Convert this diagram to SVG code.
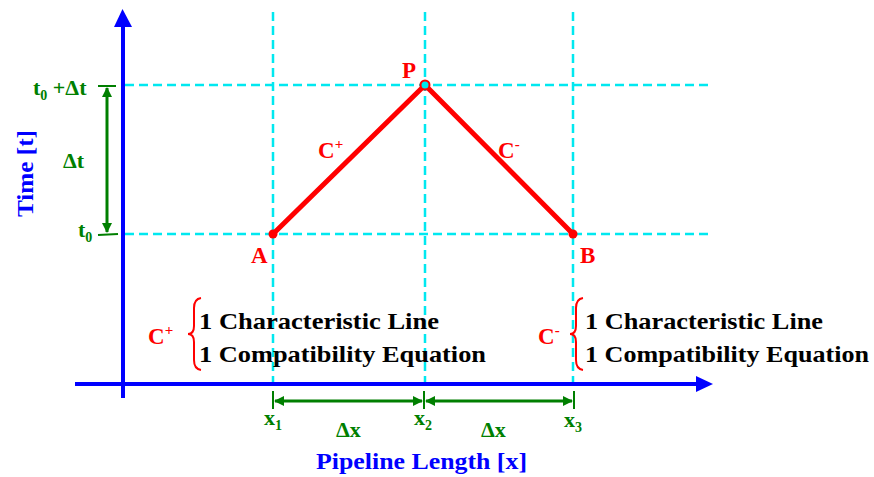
<svg xmlns="http://www.w3.org/2000/svg" width="874" height="477" viewBox="0 0 874 477">
<style>
.grid{stroke:#00E8F0;stroke-width:2.5;stroke-dasharray:9,5;fill:none}
.axis{stroke:#0000FF;stroke-width:4;fill:none}
.dim{stroke:#007F00;stroke-width:3;fill:none}
.tick{stroke:#007F00;stroke-width:2;fill:none}
.red{stroke:#FF0000;stroke-width:5;fill:none;stroke-linecap:round}
.t{font-family:"Liberation Serif","Times New Roman",serif;font-weight:bold}
.g{fill:#007F00;font-size:22px}
.r{fill:#FF0000;font-size:23px}
.k{fill:#000;font-size:23px}
.b{fill:#0000FF;font-size:23px}
</style>
<defs>
<marker id="gh" markerWidth="10" markerHeight="10" refX="9" refY="5" orient="auto-start-reverse" markerUnits="userSpaceOnUse"><path d="M0,0 L10,5 L0,10 Z" fill="#007F00"/></marker>
</defs>
<g id="grid">
<line class="grid" x1="273" y1="12" x2="273" y2="382"/>
<line class="grid" x1="425" y1="12" x2="425" y2="382"/>
<line class="grid" x1="573" y1="12" x2="573" y2="382"/>
<line class="grid" x1="125" y1="85" x2="712" y2="85"/>
<line class="grid" x1="125" y1="234" x2="712" y2="234"/>
</g>
<g id="axes">
<line class="axis" x1="123" y1="398" x2="123" y2="25"/>
<path d="M114,27 L122.5,9 L132,27 Z" fill="#0000FF"/>
<line class="axis" x1="75" y1="384" x2="698" y2="384"/>
<path d="M696,376 L713,384 L696,392 Z" fill="#0000FF"/>
<text class="t b" transform="translate(33,217) rotate(-90)" textLength="87" lengthAdjust="spacingAndGlyphs">Time [t]</text>
<text class="t b" x="316" y="469" textLength="211" lengthAdjust="spacingAndGlyphs">Pipeline Length [x]</text>
</g>
<g id="connectors">
<line class="red" x1="273" y1="234" x2="425" y2="85"/>
<line class="red" x1="425" y1="85" x2="573" y2="234"/>
</g>
<g id="nodeA">
<circle cx="273" cy="234" r="4.5" fill="#FF0000"/>
<text class="t r" x="251" y="263">A</text>
</g>
<g id="nodeB">
<circle cx="573" cy="234" r="4.5" fill="#FF0000"/>
<text class="t r" x="580" y="263">B</text>
</g>
<g id="nodeP">
<circle cx="425" cy="85" r="4.5" fill="#00E8F0" stroke="#FF0000" stroke-width="2"/>
<text class="t r" x="402" y="78">P</text>
</g>
<g id="charLabels">
<text class="t r" x="318" y="158" font-size="24">C<tspan font-size="15" dy="-9">+</tspan></text>
<text class="t r" x="498" y="158" font-size="24">C<tspan font-size="15" dy="-9">-</tspan></text>
</g>
<g id="timeDim">
<line class="tick" x1="98" y1="86" x2="116" y2="86"/>
<line class="tick" x1="98" y1="235" x2="118" y2="234"/>
<line class="dim" x1="107" y1="88" x2="107" y2="232" marker-start="url(#gh)" marker-end="url(#gh)"/>
<text class="t g" x="33" y="95">t<tspan font-size="14" dy="5">0</tspan><tspan dy="-5"> +Δt</tspan></text>
<text class="t g" x="63" y="168">Δt</text>
<text class="t g" x="78" y="237">t<tspan font-size="14" dy="5">0</tspan></text>
</g>
<g id="lengthDim">
<line class="tick" x1="273" y1="391" x2="273" y2="409"/>
<line class="tick" x1="424" y1="391" x2="424" y2="409"/>
<line class="tick" x1="574" y1="391" x2="574" y2="409"/>
<line class="dim" x1="275" y1="401" x2="422" y2="401" marker-start="url(#gh)" marker-end="url(#gh)"/>
<line class="dim" x1="426" y1="401" x2="572" y2="401" marker-start="url(#gh)" marker-end="url(#gh)"/>
<text class="t g" x="264" y="425">x<tspan font-size="14" dy="5">1</tspan></text>
<text class="t g" x="414" y="425">x<tspan font-size="14" dy="5">2</tspan></text>
<text class="t g" x="564" y="427">x<tspan font-size="14" dy="5">3</tspan></text>
<text class="t g" x="336" y="437">Δx</text>
<text class="t g" x="481" y="437">Δx</text>
</g>
<g id="leftNote">
<text class="t r" x="148" y="344" font-size="24">C<tspan font-size="15" dy="-9">+</tspan></text>
<path d="M201,298 Q194,299 194,308 L194,326 Q194,334 188,334 Q194,334 194,342 L194,360 Q194,369 201,370" fill="none" stroke="#FF0000" stroke-width="2"/>
<text class="t k" x="199" y="329" textLength="240" lengthAdjust="spacingAndGlyphs">1 Characteristic Line</text>
<text class="t k" x="199" y="362" textLength="287" lengthAdjust="spacingAndGlyphs">1 Compatibility Equation</text>
</g>
<g id="rightNote">
<text class="t r" x="538" y="344" font-size="24">C<tspan font-size="15" dy="-9">-</tspan></text>
<path d="M583,298 Q576,299 576,308 L576,326 Q576,334 570,334 Q576,334 576,342 L576,360 Q576,369 583,370" fill="none" stroke="#FF0000" stroke-width="2"/>
<text class="t k" x="585" y="329" textLength="238" lengthAdjust="spacingAndGlyphs">1 Characteristic Line</text>
<text class="t k" x="585" y="362" textLength="284" lengthAdjust="spacingAndGlyphs">1 Compatibility Equation</text>
</g>
</svg>
